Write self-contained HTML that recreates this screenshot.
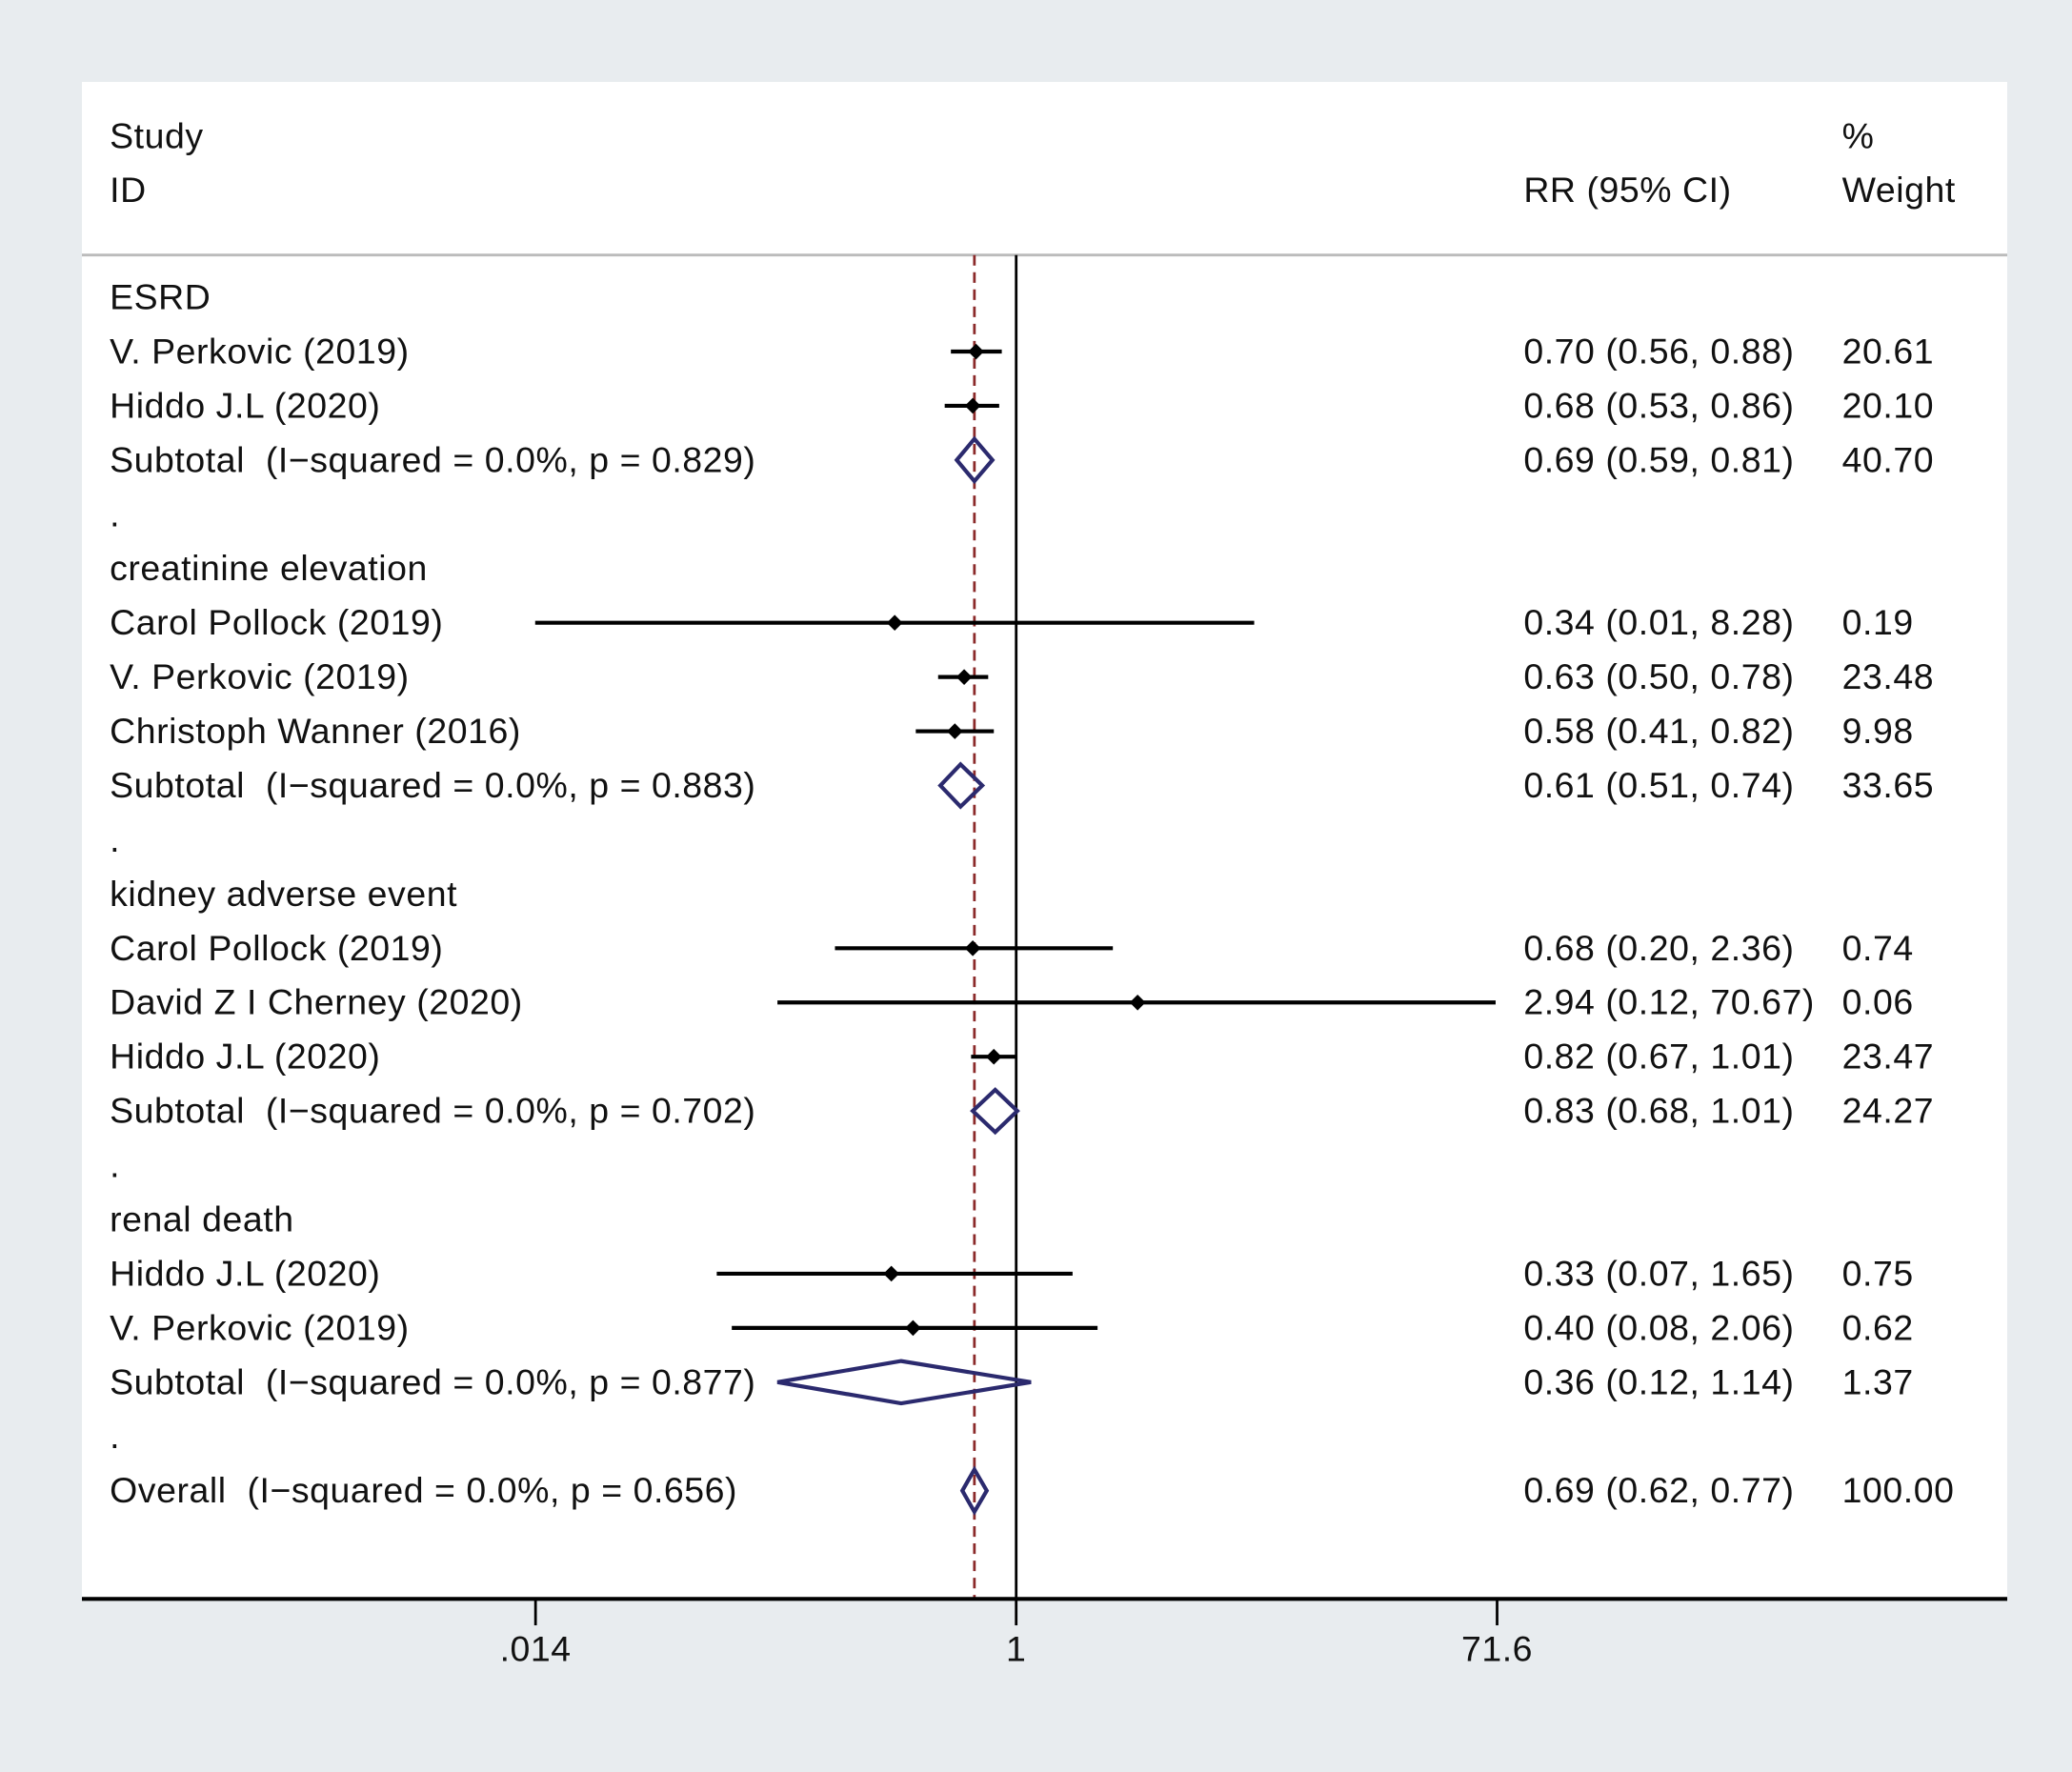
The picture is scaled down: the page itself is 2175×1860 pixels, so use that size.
<!DOCTYPE html>
<html><head><meta charset="utf-8"><style>
html,body{margin:0;padding:0;background:#e8ecef;}
svg{display:block;}
text{font-family:"Liberation Sans",sans-serif;font-size:27px;letter-spacing:0.4px;fill:#111;white-space:pre;}
</style></head><body>
<svg id="chart" width="2175" height="1860" viewBox="0 0 1568 1341" preserveAspectRatio="none" xmlns="http://www.w3.org/2000/svg">
<rect x="0" y="0" width="1568" height="1341" fill="#e8ecef"/>
<rect x="62" y="62" width="1457" height="1148" fill="#fff"/>
<line x1="62" y1="193" x2="1519" y2="193" stroke="#bbb" stroke-width="2"/>
<text x="83" y="112">Study</text>
<text x="83" y="153">ID</text>
<text x="1153" y="153">RR (95% CI)</text>
<text x="1394" y="112">%</text>
<text x="1394" y="153">Weight</text>
<g id="marks"></g>
</svg>
<script>
const labels=["ESRD","V. Perkovic (2019)","Hiddo J.L (2020)","Subtotal  (I\u2212squared = 0.0%, p = 0.829)",".","creatinine elevation","Carol Pollock (2019)","V. Perkovic (2019)","Christoph Wanner (2016)","Subtotal  (I\u2212squared = 0.0%, p = 0.883)",".","kidney adverse event","Carol Pollock (2019)","David Z I Cherney (2020)","Hiddo J.L (2020)","Subtotal  (I\u2212squared = 0.0%, p = 0.702)",".","renal death","Hiddo J.L (2020)","V. Perkovic (2019)","Subtotal  (I\u2212squared = 0.0%, p = 0.877)",".","Overall  (I\u2212squared = 0.0%, p = 0.656)"];
const kinds=["h","s","s","d","","h","s","s","s","d","","h","s","s","s","d","","h","s","s","d","","d"];
const rr=[null,0.70,0.68,0.69,null,null,0.34,0.63,0.58,0.61,null,null,0.68,2.94,0.82,0.83,null,null,0.33,0.40,0.36,null,0.69];
const lo=[null,0.56,0.53,0.59,null,null,0.01,0.50,0.41,0.51,null,null,0.20,0.12,0.67,0.68,null,null,0.07,0.08,0.12,null,0.62];
const hi=[null,0.88,0.86,0.81,null,null,8.28,0.78,0.82,0.74,null,null,2.36,70.67,1.01,1.01,null,null,1.65,2.06,1.14,null,0.77];
const ciText=["","0.70 (0.56, 0.88)","0.68 (0.53, 0.86)","0.69 (0.59, 0.81)","","","0.34 (0.01, 8.28)","0.63 (0.50, 0.78)","0.58 (0.41, 0.82)","0.61 (0.51, 0.74)","","","0.68 (0.20, 2.36)","2.94 (0.12, 70.67)","0.82 (0.67, 1.01)","0.83 (0.68, 1.01)","","","0.33 (0.07, 1.65)","0.40 (0.08, 2.06)","0.36 (0.12, 1.14)","","0.69 (0.62, 0.77)"];
const weights=["","20.61","20.10","40.70","","","0.19","23.48","9.98","33.65","","","0.74","0.06","23.47","24.27","","","0.75","0.62","1.37","","100.00"];
const ticks=[0.014,1,71.6];
const tickLabels=[".014","1","71.6"];
const overall=0.69;
const NS="http://www.w3.org/2000/svg";
const g=document.getElementById('marks');
const X0=769, PXDEC=196.2, XMIN=405, XMAX=1133;
function xs(v){return Math.max(XMIN,Math.min(X0+Math.log10(v)*PXDEC, XMAX));}
function ys(i){return 225+i*41.05;}
function mk(tag,attrs){const e=document.createElementNS(NS,tag);for(const k in attrs)e.setAttribute(k,attrs[k]);g.appendChild(e);return e;}
let e=mk('line',{x1:xs(overall),y1:193,x2:xs(overall),y2:1210,stroke:'#8b2a2a','stroke-width':2,'stroke-dasharray':'8,5'});


e=mk('line',{x1:xs(1),y1:193,x2:xs(1),y2:1210,stroke:'#000','stroke-width':2});


e=mk('line',{x1:62,y1:1210,x2:1519,y2:1210,stroke:'#000','stroke-width':3});


ticks.forEach((t,i)=>{
  let l=mk('line',{x1:xs(t),y1:1210,x2:xs(t),y2:1230,stroke:'#000','stroke-width':2});
  
  
  let tx=mk('text',{x:xs(t),y:1257,'text-anchor':'middle'});tx.textContent=tickLabels[i];
  
  
});
labels.forEach((lab,i)=>{
  const y=ys(i);
  let t=mk('text',{x:83,y:y+9});t.textContent=lab;
  
  
  if(ciText[i]){let c=mk('text',{x:1153,y:y+9});c.textContent=ciText[i];
    
    }
  if(weights[i]){let w=mk('text',{x:1394,y:y+9});w.textContent=weights[i];
    
    }
  if(kinds[i]==='s'){
    let l=mk('line',{x1:xs(lo[i]),y1:y,x2:xs(hi[i]),y2:y,stroke:'#000','stroke-width':3});
    
    
    const cx=xs(rr[i]);
    let p=mk('polygon',{points:`${cx-6},${y} ${cx},${y-6} ${cx+6},${y} ${cx},${y+6}`,fill:'#000'});
    
    
  } else if(kinds[i]==='d'){
    const a=xs(lo[i]),b=xs(hi[i]),c=xs(rr[i]);
    let p=mk('polygon',{points:`${a},${y} ${c},${y-16} ${b},${y} ${c},${y+16}`,fill:'none',stroke:'#2b2a6e','stroke-width':3});
    
    
  }
});
</script>
</body></html>
